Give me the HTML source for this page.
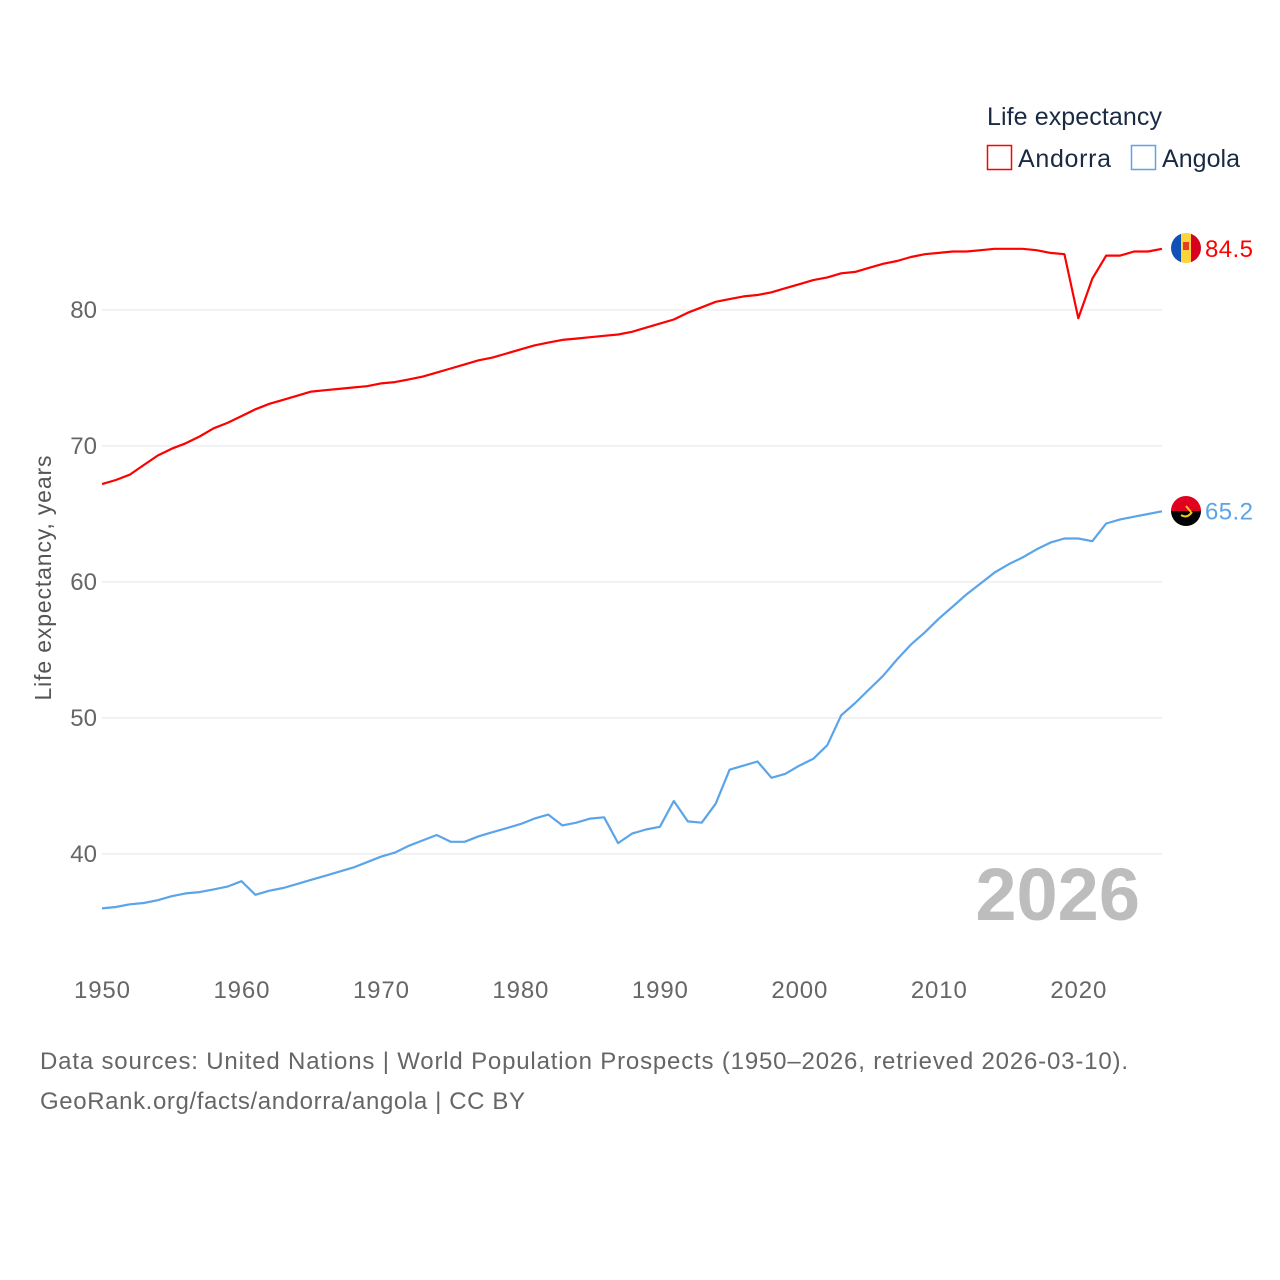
<!DOCTYPE html>
<html><head><meta charset="utf-8"><style>
body{margin:0;background:#fff;font-family:"Liberation Sans",sans-serif}
</style></head><body>
<svg id="chart" width="1280" height="1280" style="display:block">
<g id="grid"></g><g id="lines"></g><g id="labels"></g>
<text x="987" y="125" font-size="25" fill="#1a2a44" textLength="175">Life expectancy</text>
<rect x="987.5" y="145.5" width="24" height="24" fill="none" stroke="#ff0000" stroke-width="1.5"/>
<text x="1018" y="167" font-size="25" fill="#1a2a44" textLength="93">Andorra</text>
<rect x="1131.5" y="145.5" width="24" height="24" fill="none" stroke="#5ba4ea" stroke-width="1.5"/>
<text x="1162" y="167" font-size="25" fill="#1a2a44" textLength="78">Angola</text>
<text transform="translate(51,578) rotate(-90)" text-anchor="middle" font-size="23" fill="#555" textLength="245">Life expectancy, years</text>
<text x="1140" y="920" text-anchor="end" font-size="74" font-weight="bold" fill="#bdbdbd">2026</text>
<text x="40" y="1069" font-size="24" fill="#666" textLength="1088">Data sources: United Nations | World Population Prospects (1950–2026, retrieved 2026-03-10).</text>
<text x="40" y="1109" font-size="24" fill="#666" textLength="485">GeoRank.org/facts/andorra/angola | CC BY</text>
<defs><clipPath id="c1"><circle cx="1186" cy="248" r="15"/></clipPath><clipPath id="c2"><circle cx="1186" cy="511" r="15"/></clipPath></defs>
<g clip-path="url(#c1)"><rect x="1171" y="233" width="10" height="30" fill="#1150b5"/><rect x="1181" y="233" width="10" height="30" fill="#fdd43a"/><rect x="1191" y="233" width="10" height="30" fill="#d8001f"/><rect x="1183" y="242" width="6" height="8" fill="#d8001f" opacity=".7"/></g>
<g clip-path="url(#c2)"><rect x="1171" y="496" width="30" height="15" fill="#e0001f"/><rect x="1171" y="511" width="30" height="15" fill="#000"/><path d="M1181 515 q6 4 11-3 M1186 506 l5 6" stroke="#f5c518" stroke-width="2" fill="none"/></g>
</svg>
<script>
const years=[];for(let y=1950;y<=2026;y++)years.push(y);
const andorra=[67.2,67.5,67.9,68.6,69.3,69.8,70.2,70.7,71.3,71.7,72.2,72.7,73.1,73.4,73.7,74.0,74.1,74.2,74.3,74.4,74.6,74.7,74.9,75.1,75.4,75.7,76.0,76.3,76.5,76.8,77.1,77.4,77.6,77.8,77.9,78.0,78.1,78.2,78.4,78.7,79.0,79.3,79.8,80.2,80.6,80.8,81.0,81.1,81.3,81.6,81.9,82.2,82.4,82.7,82.8,83.1,83.4,83.6,83.9,84.1,84.2,84.3,84.3,84.4,84.5,84.5,84.5,84.4,84.2,84.1,79.4,82.3,84.0,84.0,84.3,84.3,84.5];
const angola=[36.0,36.1,36.3,36.4,36.6,36.9,37.1,37.2,37.4,37.6,38.0,37.0,37.3,37.5,37.8,38.1,38.4,38.7,39.0,39.4,39.8,40.1,40.6,41.0,41.4,40.9,40.9,41.3,41.6,41.9,42.2,42.6,42.9,42.1,42.3,42.6,42.7,40.8,41.5,41.8,42.0,43.9,42.4,42.3,43.7,46.2,46.5,46.8,45.6,45.9,46.5,47.0,48.0,50.2,51.1,52.1,53.1,54.3,55.4,56.3,57.3,58.2,59.1,59.9,60.7,61.3,61.8,62.4,62.9,63.2,63.2,63.0,64.3,64.6,64.8,65.0,65.2];
const yTicks=[40,50,60,70,80];
const xTicks=[1950,1960,1970,1980,1990,2000,2010,2020];
const X=y=>102+(y-1950)*(1162-102)/76;
const Y=v=>310-(v-80)*13.6;
const NS='http://www.w3.org/2000/svg';
const grid=document.getElementById('grid'),lines=document.getElementById('lines'),labels=document.getElementById('labels');
function mk(tag,attrs,parent,txt){const e=document.createElementNS(NS,tag);for(const k in attrs)e.setAttribute(k,attrs[k]);if(txt!=null)e.textContent=txt;parent.appendChild(e);return e;}
yTicks.forEach(v=>{
 const l=mk('line',{x1:102,x2:1162,y1:Y(v),y2:Y(v),stroke:'#e6e6e6','stroke-width':1},grid);
 
 
 const t=mk('text',{x:97,y:Y(v)+8,'text-anchor':'end','font-size':24,fill:'#666'},labels,String(v));
 
 
});
xTicks.forEach(yr=>{
 const t=mk('text',{x:X(yr),y:998,'text-anchor':'middle','font-size':24,fill:'#666',textLength:56},labels,String(yr));
 
 
});
function line(data,color,name){
 const d=data.map((v,i)=>(i?'L':'M')+X(years[i]).toFixed(1)+' '+Y(v).toFixed(1)).join(' ');
 const p=mk('path',{d:d,fill:'none',stroke:color,'stroke-width':2.2,'stroke-linejoin':'round'},lines);
 
 
 const last=data[data.length-1];
 const t=mk('text',{x:1205,y:Y(last)+8,'font-size':24,fill:color,textLength:48},labels,last.toFixed(1));
 
 
}
line(andorra,'#ff0000','andorra');
line(angola,'#5ba4ea','angola');
</script>
</body></html>
